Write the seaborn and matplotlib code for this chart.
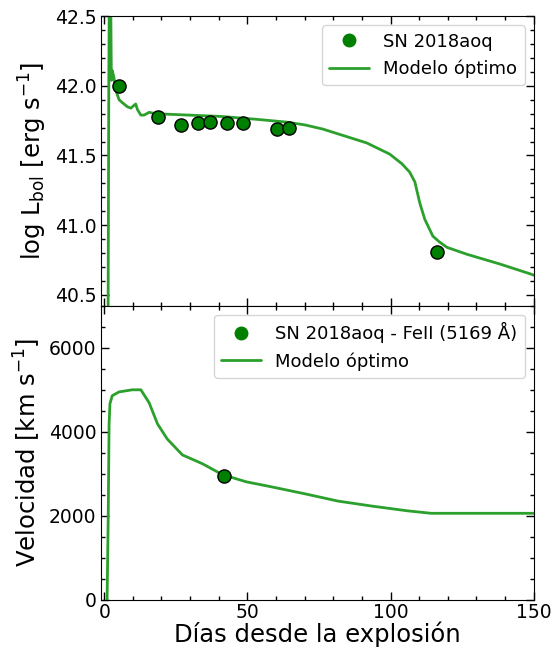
import numpy as np
import pandas as pd
import matplotlib
matplotlib.use('Agg')
import matplotlib.pyplot as plt
import seaborn as sns
from matplotlib.lines import Line2D
from matplotlib.ticker import MultipleLocator

# Observed bolometric luminosity
obs_days = [5.2, 18.8, 26.9, 32.8, 37.1, 43.0, 48.6, 60.3, 64.5, 116.1]
obs_logL = [42.00, 41.78, 41.72, 41.73, 41.74, 41.73, 41.73, 41.69, 41.70, 40.81]

# Optimal model light curve
mod_days = [1.0, 1.3, 1.6, 1.9, 2.2, 2.5, 2.8, 3.4, 4.0, 5.2, 6.3, 8.1, 9.3, 10.4, 11.0,
            11.6, 12.8, 13.9, 15.7, 18.0, 29.7, 41.2, 53.1, 63.6, 70.0, 76.3, 84.0,
            91.7, 99.7, 104.0, 106.7, 108.5, 110.2, 112.0, 114.8, 117.0, 119.7, 126.7,
            138.2, 148.7, 150.0]
mod_logL = [38.0, 40.0, 42.0, 43.2, 42.8, 42.04, 42.11, 42.06, 41.97, 41.90, 41.88, 41.85,
            41.84, 41.86, 41.87, 41.83, 41.79, 41.79, 41.81, 41.80, 41.79, 41.78, 41.76,
            41.74, 41.72, 41.69, 41.64, 41.59, 41.51, 41.44, 41.38, 41.31, 41.16, 41.04,
            40.92, 40.88, 40.84, 40.79, 40.72, 40.65, 40.64]

# Observed Fe II velocity
vel_days = [41.9]
vel_obs = [2950]

# Optimal model velocity
vmod_days = [1.0, 1.4, 1.7, 2.0, 2.8, 5.2, 9.8, 12.8, 15.7, 18.6, 22.0, 27.3, 34.3, 41.3,
             49.6, 57.7, 69.7, 81.7, 93.7, 105.8, 114.2, 150.0]
vmod_vel = [0, 2000, 4190, 4670, 4860, 4950, 5000, 5000, 4690, 4190, 3830, 3450, 3240, 2980,
            2810, 2700, 2530, 2350, 2230, 2120, 2060, 2060]

sns.set_style('ticks')
plt.rcParams['font.family'] = ['DejaVu Sans']
plt.rcParams.update({'text.color': 'black', 'axes.labelcolor': 'black',
                     'xtick.color': 'black', 'ytick.color': 'black',
                     'axes.edgecolor': 'black'})

line_color = '#2ca02c'
pt_color = 'green'

fig = plt.figure(figsize=(5.6, 6.52), dpi=100)
ax1 = fig.add_axes([0.181, 0.531, 0.772, 0.444])
ax2 = fig.add_axes([0.181, 0.080, 0.772, 0.451], sharex=ax1)

lc = pd.DataFrame({'dias': mod_days, 'logL': mod_logL})
ob = pd.DataFrame({'dias': obs_days, 'logL': obs_logL})
sns.lineplot(data=lc, x='dias', y='logL', ax=ax1, color=line_color, lw=2, sort=False)
sns.scatterplot(data=ob, x='dias', y='logL', ax=ax1, color=pt_color, s=90,
                edgecolor='black', linewidth=1, zorder=3)

vm = pd.DataFrame({'dias': vmod_days, 'vel': vmod_vel})
vo = pd.DataFrame({'dias': vel_days, 'vel': vel_obs})
sns.lineplot(data=vm, x='dias', y='vel', ax=ax2, color=line_color, lw=2, sort=False)
sns.scatterplot(data=vo, x='dias', y='vel', ax=ax2, color=pt_color, s=90,
                edgecolor='black', linewidth=1, zorder=3)

ax1.set_xlim(-1, 150)
ax1.set_ylim(40.42, 42.5)
ax2.set_ylim(0, 7000)

ax1.yaxis.set_major_locator(MultipleLocator(0.5))
ax1.yaxis.set_minor_locator(MultipleLocator(0.1))
ax2.yaxis.set_major_locator(MultipleLocator(2000))
ax2.yaxis.set_minor_locator(MultipleLocator(500))
ax2.xaxis.set_major_locator(MultipleLocator(50))
ax2.xaxis.set_minor_locator(MultipleLocator(10))

for ax in [ax1, ax2]:
    ax.tick_params(which='both', direction='in', top=True, right=True,
                   bottom=True, left=True, labelsize=13.5, colors='black')
    ax.tick_params(which='major', length=6, width=1)
    ax.tick_params(which='minor', length=3, width=1)
    for s in ax.spines.values():
        s.set_visible(True)
        s.set_color('black')
ax1.tick_params(labelbottom=False)
ax2.tick_params(axis='x', pad=2)

ax1.set_xlabel('')
ax1.set_ylabel(r'log L$_{\rm bol}$ [erg s$^{-1}$]', fontsize=17.5)
ax2.set_ylabel(r'Velocidad [km s$^{-1}$]', fontsize=17.5)
ax2.set_xlabel('Días desde la explosión', fontsize=17.5, labelpad=0)

h1 = [Line2D([0], [0], marker='o', color=pt_color, ls='', markersize=9, label='SN 2018aoq'),
      Line2D([0], [0], color=line_color, lw=2, label='Modelo óptimo')]
ax1.legend(handles=h1, loc='upper right', fontsize=13, handlelength=2.2)
h2 = [Line2D([0], [0], marker='o', color=pt_color, ls='', markersize=9,
             label='SN 2018aoq - FeII (5169 Å)'),
      Line2D([0], [0], color=line_color, lw=2, label='Modelo óptimo')]
ax2.legend(handles=h2, loc='upper right', fontsize=13, handlelength=2.2)

fig.savefig('out.png', dpi=100)
